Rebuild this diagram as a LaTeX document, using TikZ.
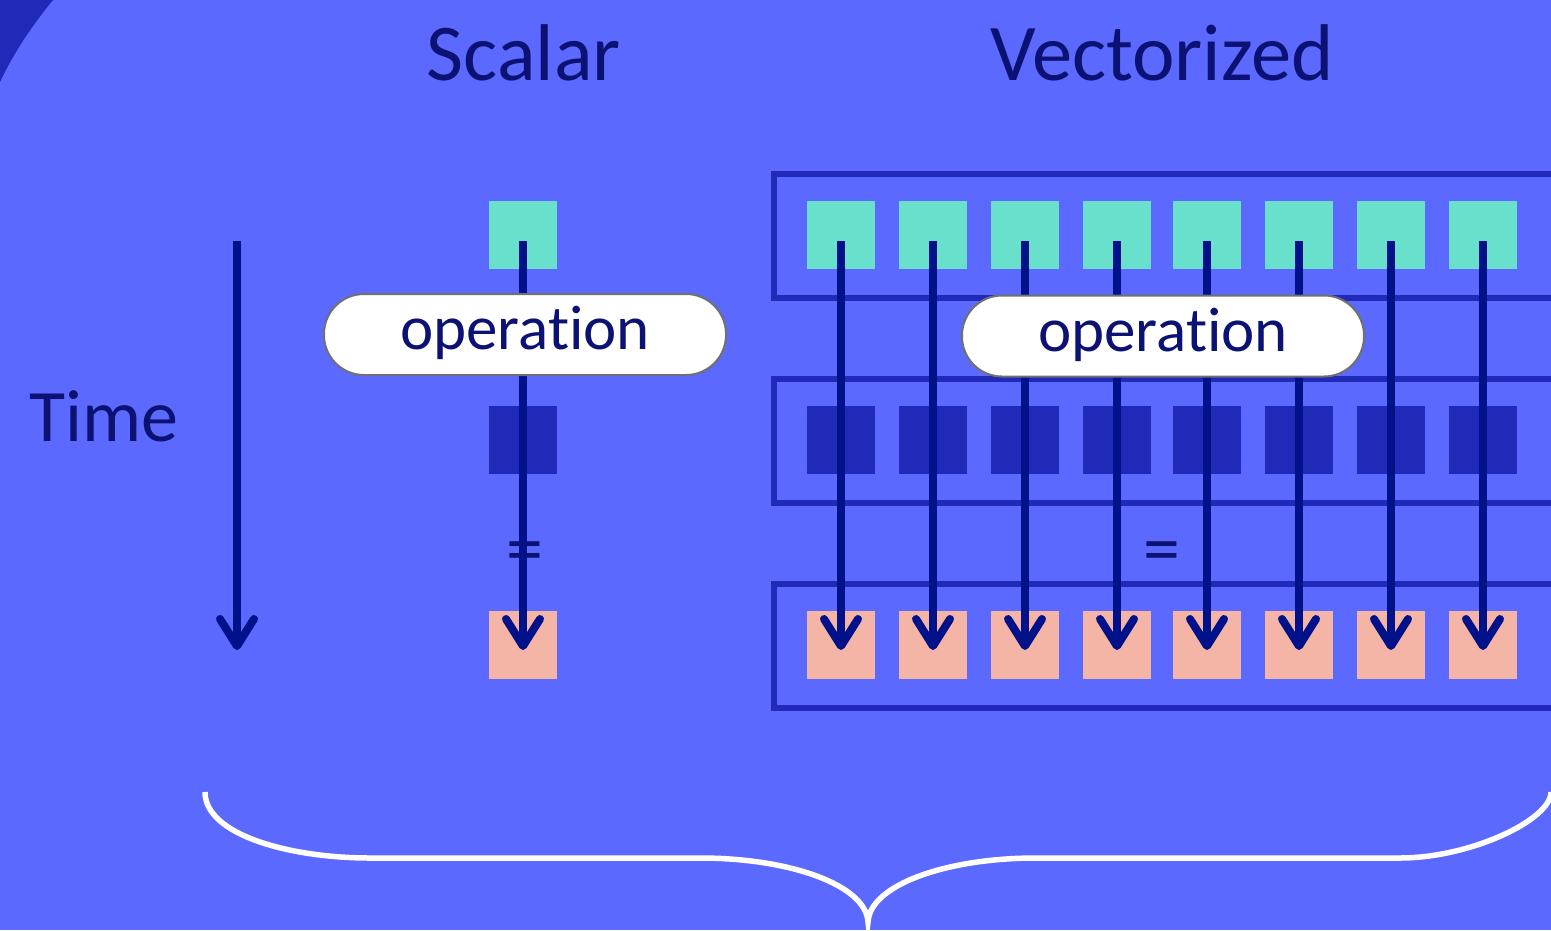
\documentclass[tikz,border=0pt]{standalone}
\usepackage{fontspec}
\setmainfont{Carlito}[Ligatures=NoCommon]
\usetikzlibrary{arrows.meta}
\definecolor{bg}{HTML}{5B69FF}
\definecolor{darkblue}{HTML}{1F2BB8}
\definecolor{tealc}{HTML}{69E0CC}
\definecolor{salmon}{HTML}{F4B5A6}
\definecolor{navy}{HTML}{00118A}
\definecolor{textc}{HTML}{0C1273}
\definecolor{pillgray}{HTML}{707070}
\begin{document}
\begin{tikzpicture}[x=1pt,y=-1pt,
  sq/.style={minimum size=68pt, inner sep=0pt, outer sep=0pt, draw=none},
  insq/.style={sq, fill=tealc},
  midsq/.style={sq, fill=darkblue},
  outsq/.style={sq, fill=salmon},
  frame/.style={draw=darkblue, line width=6pt},
  arr/.style={draw=navy, line width=8pt, -{Straight Barb[length=27pt,width=34pt,round]}},
  pill/.style={draw=pillgray, line width=2pt, fill=white, rounded corners=40pt,
    minimum width=402pt, minimum height=81pt, inner sep=0pt,
    font=\fontsize{63}{63}\selectfont, text=textc, text height=45pt, text depth=15pt},
  title/.style={anchor=base, text=textc, font=\fontsize{80.5}{80.5}\selectfont},
  lbl/.style={anchor=base, text=textc, font=\fontsize{74}{74}\selectfont},
  brace/.style={draw=white, line width=5.5pt}
]
\useasboundingbox (0,0) rectangle (1551,930);
\fill[bg] (0,0) rectangle (1551,930);
\fill[darkblue] (0,0) -- (53,0) .. controls (35,22) and (15,50) .. (0,82) -- cycle;

% titles
\node[title] (scalar) at (524,80) {Scalar};
\node[title] (vect) at (1162,80) {Vectorized};
\node[lbl] (time) at (104,441) {Time};

% frames
\draw[frame] (774,174) rectangle (1575,298);
\draw[frame] (774,379) rectangle (1575,503);
\draw[frame] (774,584) rectangle (1575,708);

% scalar squares
\node[insq] (tA) at (523,235) {};
\node[midsq] (dA) at (523,439.5) {};
\node[outsq] (rA) at (523,645) {};

% vector squares
\foreach \i/\x in {1/841,2/933,3/1025,4/1117,5/1207,6/1299,7/1391,8/1483} {
  \node[insq] (t\i) at (\x,235) {};
  \node[midsq] (d\i) at (\x,439.5) {};
  \node[outsq] (r\i) at (\x,645) {};
}

% equal signs
\node[lbl] (eqA) at (525,573) {=};
\node[lbl] (eqB) at (1162,573) {=};

% arrows
\coordinate (timetop) at (237,241);
\coordinate (timebot) at (237,650);
\draw[arr] (timetop) -- (timebot);
\draw[arr] ([yshift=-6pt]tA.center) -- ([yshift=-5pt]rA.center);
\foreach \i in {1,...,8} {
  \draw[arr] ([yshift=-6pt]t\i.center) -- ([yshift=-5pt]r\i.center);
}

% operation pills
\node[pill] (opA) at (525,334.5) {operation};
\node[pill] (opB) at (1163,336) {operation};

% brace
\draw[brace] (205,792) .. controls (205,835) and (290,858) .. (370,858)
  -- (700,858) .. controls (790,858) and (866,885) .. (868,922)
  .. controls (870,885) and (946,858) .. (1036,858)
  -- (1400,858) .. controls (1470,858) and (1551,820) .. (1551,792);
\end{tikzpicture}
\end{document}
